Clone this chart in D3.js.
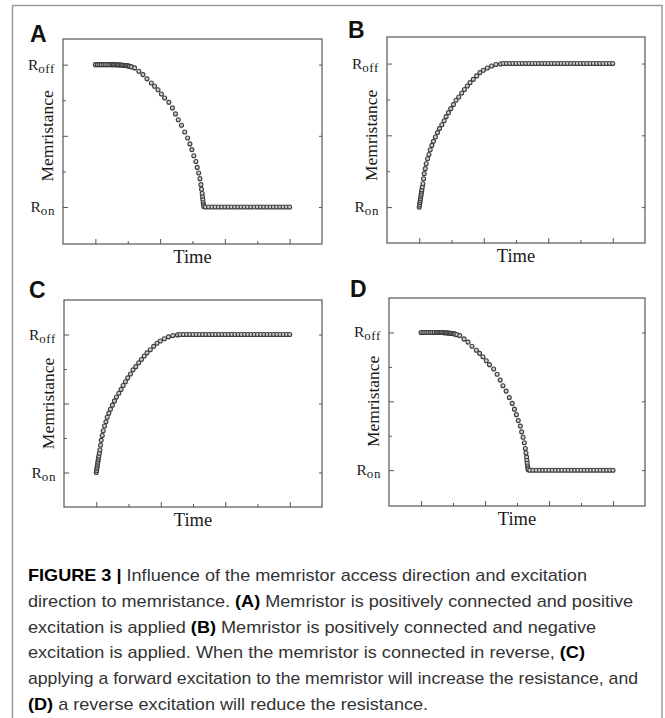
<!DOCTYPE html>
<html>
<head>
<meta charset="utf-8">
<script src="https://cdn.jsdelivr.net/npm/d3@7"></script>
<style>
  body { margin: 0; background: #fff; }
  svg { display: block; }
</style>
</head>
<body>
<div id="chart"></div>
<script>
const width = 665, height = 718;

// axis ticks (time in arbitrary units, memristance normalised Ron=0 .. Roff=1)
const timeTicks = [0, 1, 2, 3, 4, 5, 6];
const majorTime = [0, 2, 4, 6];
const levelTicks = [0, 0.25, 0.5, 0.75, 1];
const majorLevel = [0, 0.5, 1];

// A and D: memristance drops from Roff to Ron
const fallTime = [0, 0.06, 0.12, 0.18, 0.24, 0.30, 0.36, 0.42, 0.48,
  0.52, 0.56, 0.60, 0.64, 0.68, 0.72, 0.76, 0.80, 0.84, 0.88, 0.92, 0.96, 1.00, 1.03, 1.06,
  1.12, 1.21, 1.345, 1.47, 1.594, 1.73, 1.83, 1.935, 2.04, 2.14,
  2.27, 2.38, 2.475, 2.56, 2.66, 2.76, 2.85, 2.92, 2.98, 3.04,
  3.105, 3.146, 3.19, 3.23, 3.26, 3.28, 3.30, 3.31, 3.32, 3.33, 3.34, 3.35,
  3.4, 3.5, 3.6, 3.7, 3.8, 3.9, 4.0, 4.1, 4.2, 4.3, 4.4, 4.5, 4.6, 4.7,
  4.8, 4.9, 5.0, 5.1, 5.2, 5.3, 5.4, 5.5, 5.6, 5.7, 5.8, 5.9, 6.0];
const fallMem = [1, 1, 1, 1, 1, 1, 1, 1, 1,
  1, 1, 1, 0.999, 0.999, 0.998, 0.998, 0.997, 0.996, 0.995, 0.994, 0.993, 0.992, 0.99, 0.988,
  0.984, 0.977, 0.953, 0.93, 0.90, 0.871, 0.848, 0.824, 0.794, 0.766,
  0.735, 0.696, 0.654, 0.613, 0.574, 0.527, 0.485, 0.443, 0.403, 0.36,
  0.32, 0.278, 0.239, 0.199, 0.157, 0.125, 0.095, 0.07, 0.05, 0.03, 0.015, 0.003,
  0, 0, 0, 0, 0, 0, 0, 0, 0, 0, 0, 0, 0, 0,
  0, 0, 0, 0, 0, 0, 0, 0, 0, 0, 0, 0, 0];

// B and C: memristance rises from Ron to Roff
const riseTime = [0, 0.01, 0.02, 0.03, 0.04, 0.05, 0.06, 0.07, 0.08, 0.095,
  0.113, 0.134, 0.154, 0.185, 0.216, 0.257, 0.30, 0.34, 0.39, 0.44,
  0.50, 0.565, 0.627, 0.70, 0.77, 0.833, 0.905, 0.977, 1.06, 1.14,
  1.225, 1.317, 1.40, 1.49, 1.574, 1.676, 1.78, 1.883, 1.985, 2.11,
  2.24, 2.377, 2.52,
  2.6, 2.7, 2.8, 2.9, 3.0, 3.1, 3.2, 3.3, 3.4, 3.5, 3.6, 3.7, 3.8, 3.9,
  4.0, 4.1, 4.2, 4.3, 4.4, 4.5, 4.6, 4.7, 4.8, 4.9, 5.0, 5.1, 5.2, 5.3,
  5.4, 5.5, 5.6, 5.7, 5.8, 5.9, 6.0];
const riseMem = [0, 0.015, 0.03, 0.045, 0.06, 0.075, 0.09, 0.105, 0.12, 0.14,
  0.163, 0.198, 0.233, 0.268, 0.302, 0.337, 0.367, 0.40, 0.43, 0.458,
  0.488, 0.519, 0.547, 0.574, 0.602, 0.63, 0.658, 0.686, 0.714, 0.744,
  0.767, 0.795, 0.819, 0.844, 0.867, 0.89, 0.914, 0.937, 0.953, 0.969,
  0.983, 0.993, 0.997,
  1, 1, 1, 1, 1, 1, 1, 1, 1, 1, 1, 1, 1, 1,
  1, 1, 1, 1, 1, 1, 1, 1, 1, 1, 1, 1, 1, 1,
  1, 1, 1, 1, 1, 1, 1];

const captionLines = [
  [["FIGURE 3 |", true], [" Influence of the memristor access direction and excitation", false]],
  [["direction to memristance. ", false], ["(A)", true], [" Memristor is positively connected and positive", false]],
  [["excitation is applied ", false], ["(B)", true], [" Memristor is positively connected and negative", false]],
  [["excitation is applied. When the memristor is connected in reverse, ", false], ["(C)", true]],
  [["applying a forward excitation to the memristor will increase the resistance, and", false]],
  [["(D)", true], [" a reverse excitation will reduce the resistance.", false]]
];

const serif = "'Liberation Serif', 'Times New Roman', serif";
const sans = "'Liberation Sans', Arial, Helvetica, sans-serif";

const panels = [
  {letter: "A", lx: 30, ly: 42, box: {x: 63, y: 39, w: 259, h: 205}, yDom: [-0.26, 1.18], t: fallTime, m: fallMem},
  {letter: "B", lx: 348, ly: 38, box: {x: 387, y: 37, w: 258, h: 206}, yDom: [-0.25, 1.185], t: riseTime, m: riseMem},
  {letter: "C", lx: 29, ly: 298, box: {x: 64, y: 300, w: 258, h: 207}, yDom: [-0.25, 1.25], t: riseTime, m: riseMem},
  {letter: "D", lx: 350, ly: 297, box: {x: 389, y: 298, w: 256, h: 208}, yDom: [-0.26, 1.25], t: fallTime, m: fallMem}
];

const svg = d3.select("#chart").append("svg")
  .attr("width", width)
  .attr("height", height);

// outer frame (top, left, right)
svg.append("path")
  .attr("d", `M12.5,${height} V5.5 H662 V${height}`)
  .attr("fill", "none")
  .attr("stroke", "#9a9a9a")
  .attr("stroke-width", 1.5);

panels.forEach(p => {
  const b = p.box;
  const x = d3.scaleLinear().domain([-1, 7]).range([b.x, b.x + b.w]);
  const y = d3.scaleLinear().domain(p.yDom).range([b.y + b.h, b.y]);
  const g = svg.append("g");

  // ticks, pointing inward
  const addAxis = (axis, tx, ty) => {
    const a = g.append("g").attr("transform", `translate(${tx},${ty})`).call(axis);
    a.select(".domain").remove();
    a.selectAll("text").remove();
    a.selectAll("line").attr("stroke", "#555").attr("stroke-width", 1);
  };
  addAxis(d3.axisBottom(x).tickValues(majorTime).tickSize(-5), 0, b.y + b.h);
  addAxis(d3.axisBottom(x).tickValues(timeTicks.filter(d => !majorTime.includes(d))).tickSize(-3), 0, b.y + b.h);
  addAxis(d3.axisLeft(y).tickValues(majorLevel).tickSize(-5), b.x, 0);
  addAxis(d3.axisLeft(y).tickValues(levelTicks.filter(d => !majorLevel.includes(d))).tickSize(-3), b.x, 0);
  addAxis(d3.axisRight(y).tickValues(majorLevel).tickSize(-3), b.x + b.w, 0);

  g.append("rect")
    .attr("x", b.x).attr("y", b.y)
    .attr("width", b.w).attr("height", b.h)
    .attr("fill", "none")
    .attr("stroke", "#555")
    .attr("stroke-width", 1.2);

  // R_off / R_on labels
  [[1, "off"], [0, "on"]].forEach(([v, sub]) => {
    const tl = g.append("text")
      .attr("x", b.x - 8)
      .attr("y", y(v) + 5)
      .attr("text-anchor", "end")
      .attr("font-family", serif)
      .attr("font-size", 15.5)
      .attr("fill", "#1a1a1a");
    tl.append("tspan").text("R");
    tl.append("tspan")
      .attr("dy", 3)
      .attr("font-size", 13)
      .attr("letter-spacing", 0.6)
      .text(sub);
  });

  g.append("text")
    .attr("transform", `translate(${b.x - 10},${y(0.5)}) rotate(-90)`)
    .attr("text-anchor", "middle")
    .attr("font-family", serif)
    .attr("font-size", 17.5)
    .attr("fill", "#1a1a1a")
    .text("Memristance");

  g.append("text")
    .attr("x", b.x + b.w / 2)
    .attr("y", b.y + b.h + 19)
    .attr("text-anchor", "middle")
    .attr("font-family", serif)
    .attr("font-size", 18.5)
    .attr("fill", "#1a1a1a")
    .text("Time");

  g.append("text")
    .attr("x", p.lx)
    .attr("y", p.ly)
    .attr("font-family", sans)
    .attr("font-weight", "bold")
    .attr("font-size", 23)
    .attr("fill", "#111")
    .text(p.letter);

  const pts = d3.zip(p.t, p.m);
  g.selectAll("circle.pt")
    .data(pts)
    .enter()
    .append("circle")
    .attr("class", "pt")
    .attr("cx", d => x(d[0]))
    .attr("cy", d => y(d[1]))
    .attr("r", 2)
    .attr("fill", "#cfcfcf")
    .attr("stroke", "#3c3c3c")
    .attr("stroke-width", 1.1);
});

// caption
const cap = svg.append("g");
const lineTexts = captionLines.map((segs, i) => {
  const t = cap.append("text")
    .attr("x", 28)
    .attr("y", 581 + i * 25.8)
    .attr("font-family", sans)
    .attr("font-size", 17)
    .attr("fill", "#333");
  segs.forEach(([s, bold]) => {
    t.append("tspan")
      .attr("font-weight", bold ? "bold" : null)
      .attr("fill", bold ? "#000" : null)
      .text(s);
  });
  return t;
});
const natural = lineTexts.map(t => t.node().getComputedTextLength());
const k = 559 / natural[0];
lineTexts.forEach((t, i) => {
  t.attr("textLength", Math.min(natural[i] * k, 610))
    .attr("lengthAdjust", "spacingAndGlyphs");
});
</script>
</body>
</html>
